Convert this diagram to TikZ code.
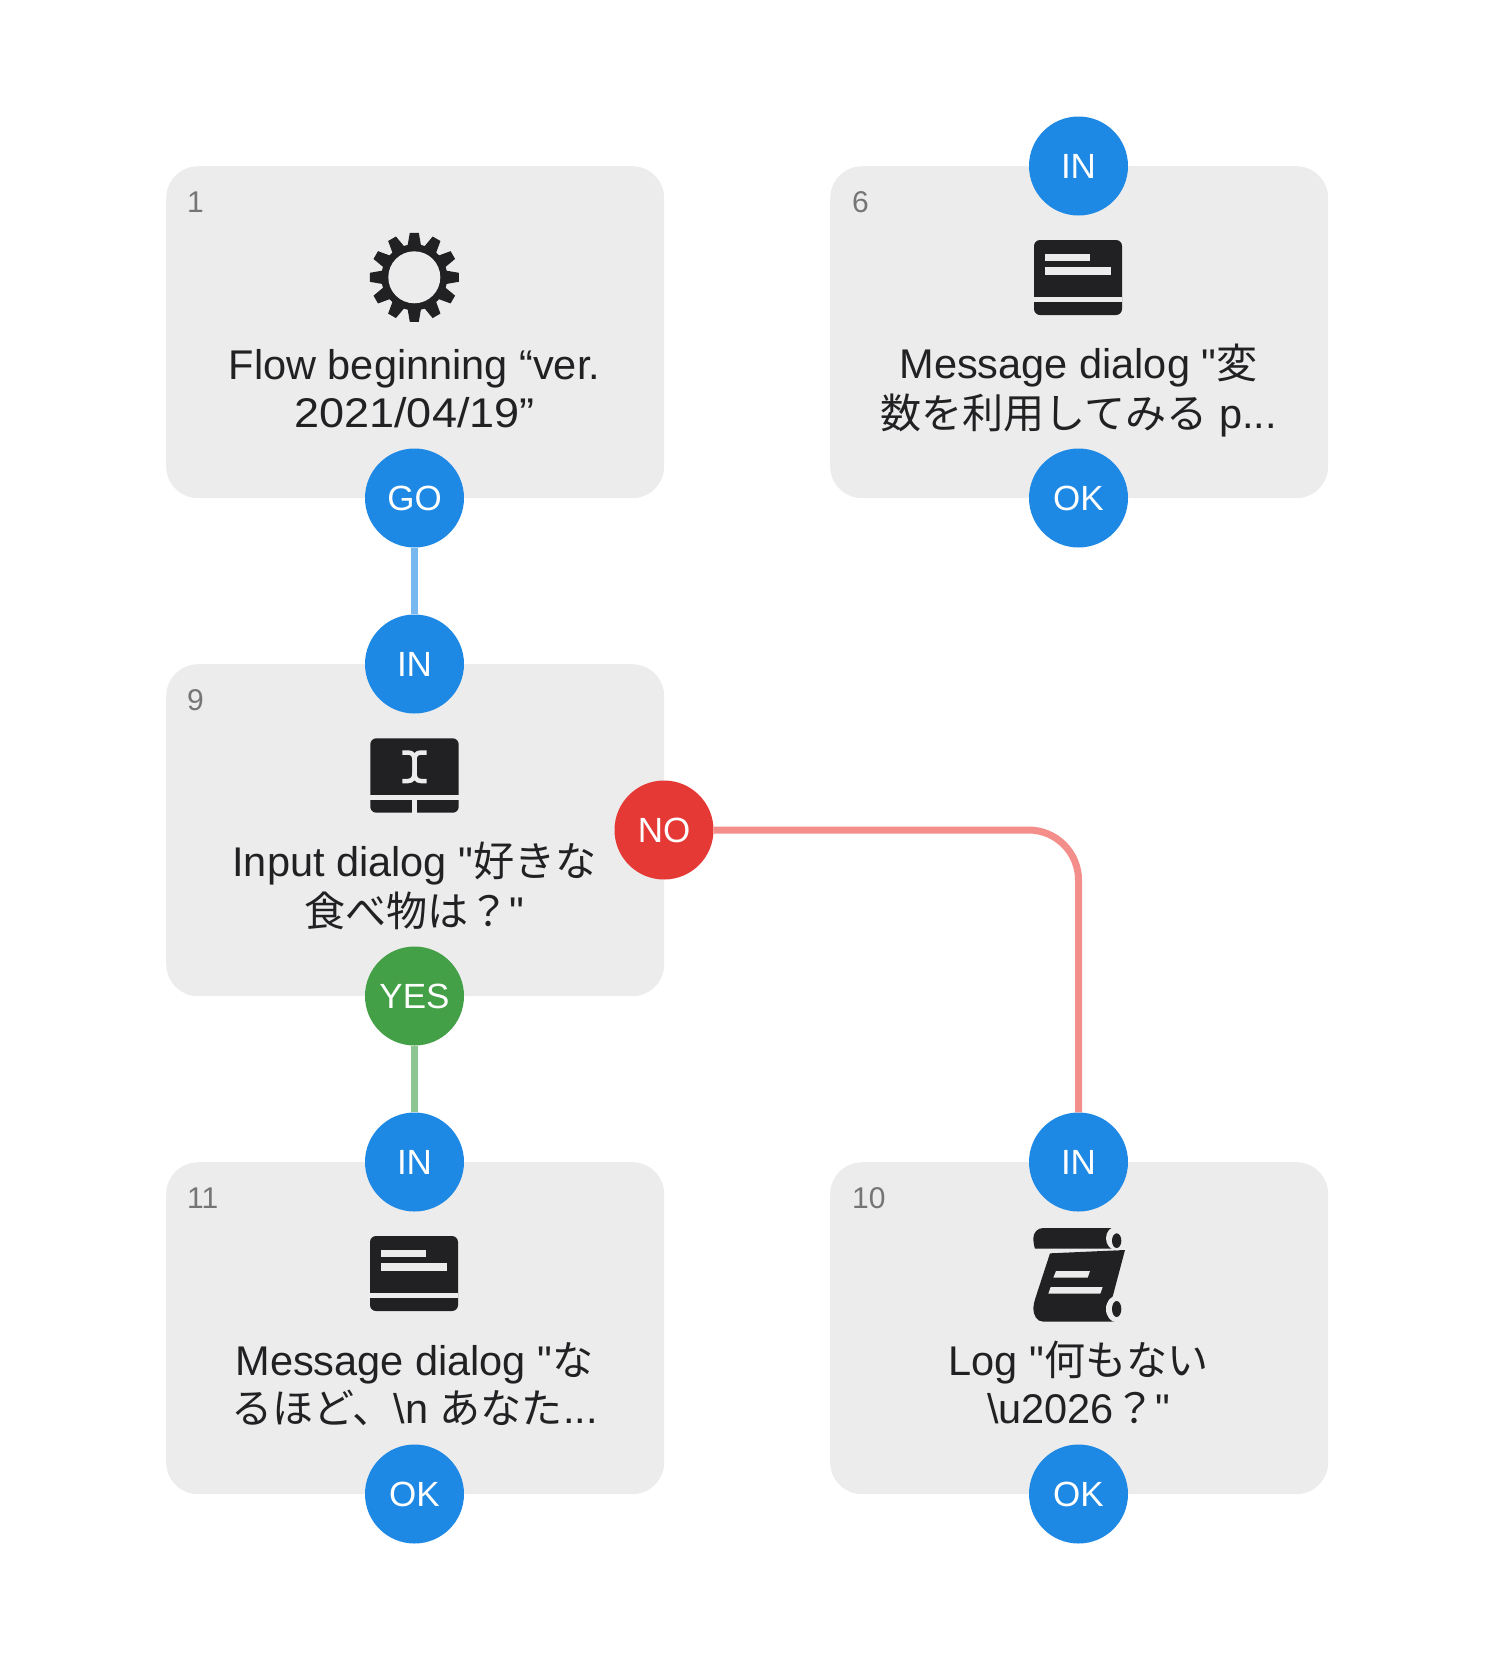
\documentclass[tikz,border=0pt]{standalone}
\usepackage{fontspec}
\setmainfont{Liberation Sans}
\newfontfamily\cjk[Scale=0.99]{Noto Sans CJK JP}
\newfontfamily\widedigits[FakeStretch=1.085]{Liberation Sans}
\newfontfamily\plainq{Liberation Sans}
\definecolor{boxgray}{HTML}{ECECEC}
\definecolor{inkdark}{HTML}{212023}
\definecolor{numgray}{HTML}{757575}
\definecolor{portblue}{HTML}{1E88E5}
\definecolor{portred}{HTML}{E53935}
\definecolor{portgreen}{HTML}{43A047}
\definecolor{lineblue}{HTML}{78B8F0}
\definecolor{linered}{HTML}{F38E8A}
\definecolor{linegreen}{HTML}{8EC691}
\newcommand{\J}[1]{{\cjk #1}}
\newcommand{\Q}{{\plainq\symbol{34}}}
\tikzset{
  x=1pt,y=-1pt,
  card/.style={fill=boxgray,rounded corners=32pt,minimum width=498pt,minimum height=332pt,inner sep=0pt,anchor=north west},
  port/.style={circle,minimum size=99pt,inner sep=0pt,text=white,font=\fontsize{35}{35}\selectfont},
  portb/.style={port,fill=portblue},
  portr/.style={port,fill=portred},
  portg/.style={port,fill=portgreen},
  numlabel/.style={text=numgray,font=\fontsize{30}{30}\selectfont,anchor=base west,inner sep=0pt},
  title/.style={text=inkdark,align=center,inner sep=0pt,font=\fontsize{41.5}{48}\selectfont},
  wire/.style={line width=7pt},
  ink/.style={fill=inkdark,draw=none},
  paper/.style={fill=boxgray,draw=none},
}
\newcommand{\msgicon}[2]{%
  \begin{scope}[shift={(#1,#2)}]
    \fill[ink,rounded corners=6pt] (1034,240) rectangle (1122,315);
    \fill[paper] (1045,254) rectangle (1090,261);
    \fill[paper] (1045,267) rectangle (1111,275);
    \fill[paper] (1034,297.3) rectangle (1122,301.7);
  \end{scope}}
\begin{document}
\begin{tikzpicture}
\useasboundingbox (0,0) rectangle (1494,1660);
% cards
\node[card] (c1) at (166,166) {};
\node[card] (c6) at (830,166) {};
\node[card] (c9) at (166,664) {};
\node[card] (c11) at (166,1162) {};
\node[card] (c10) at (830,1162) {};
% numbers
\node[numlabel] (n1) at (187,212.5) {1};
\node[numlabel] (n6) at (852,212.5) {6};
\node[numlabel] (n9) at (187,710.5) {9};
\node[numlabel] (n11) at (187,1208.5) {11};
\node[numlabel] (n10) at (852,1208.5) {10};
% gear
\begin{scope}[shift={(414.3,277.3)}]
  \fill[ink] (0,0) circle (33);
  \foreach \a in {0,30,...,330}{
    \fill[ink,rotate=\a] (-7,-30) -- (-4.5,-44.5) -- (4.5,-44.5) -- (7,-30) -- cycle;
  }
  \fill[paper] (0,0) circle (26);
\end{scope}
% message icons
\msgicon{0}{0}
\msgicon{-664}{996}
% input icon
\fill[ink,rounded corners=6pt] (370.3,738.3) rectangle (458.7,812.7);
\fill[paper] (370.3,795) rectangle (458.7,800);
\fill[paper] (411.7,800) rectangle (417.3,812.7);
\draw[boxgray,line width=4.5pt] (402.3,752.5) -- (408,752.5) .. controls (413,752.5) and (414.5,756) .. (414.5,760) -- (414.5,773) .. controls (414.5,777) and (413,781) .. (408,781) -- (402.3,781);
\draw[boxgray,line width=4.5pt] (426.7,752.5) -- (421,752.5) .. controls (416,752.5) and (414.5,756) .. (414.5,760) -- (414.5,773) .. controls (414.5,777) and (416,781) .. (421,781) -- (426.7,781);
% scroll icon
\begin{scope}[shift={(1000,1210)},x=0.3333pt,y=-0.3333pt]
  \fill[ink] (345,54) -- (130,54) .. controls (112,54) and (100,68) .. (100,85) .. controls (100,102) and (105,116) .. (105,116) -- (345,116) -- cycle;
  \fill[ink] (150,130) -- (375,120) -- (330,290) -- (345,335) -- (130,335) .. controls (110,335) and (100,315) .. (100,295) .. controls (100,285) and (103,275) .. (106,265) -- cycle;
  \fill[paper] (160,203) -- (168,183) -- (270,183) -- (263,203) -- cycle;
  \fill[paper] (145,251) -- (152,231) -- (308,231) -- (301,251) -- cycle;
  \fill[paper] (350,85) ellipse [x radius=32,y radius=36];
  \fill[ink] (350,92) ellipse [x radius=14,y radius=22];
  \fill[paper] (350,297) ellipse [x radius=32,y radius=40];
  \fill[ink] (350,297) ellipse [x radius=14,y radius=24];
\end{scope}
% titles
\node[title] (t1) at (414.5,393.5) {\strut Flow beginning “ver.\\\strut{\widedigits 2021/04/19”}};
\node[title] (t6) at (1078.5,393.5) {\strut Message dialog \Q\J{変}\\\strut\J{数を利用してみる} p...};
\node[title] (t9) at (414.5,891.5) {\strut Input dialog \Q\J{好きな}\\\strut\J{食べ物は？}\Q};
\node[title] (t11) at (414.5,1389.5) {\strut Message dialog \Q\J{な}\\\strut\J{るほど、}\textbackslash n \J{あなた}...};
\node[title] (t10) at (1078.5,1389.5) {\strut Log \Q\J{何もない}\\\strut\textbackslash u2026\J{？}\Q};
% ports
\node[portb] (go1) at (414.5,498) {GO};
\node[portb] (in6) at (1078.5,166) {\raisebox{-1.5pt}{IN}};
\node[portb] (ok6) at (1078.5,498) {OK};
\node[portb] (in9) at (414.5,664) {\raisebox{-1.5pt}{IN}};
\node[portr] (no9) at (664,830) {NO};
\node[portg] (yes9) at (414.5,996) {YES};
\node[portb] (in11) at (414.5,1162) {\raisebox{-1.5pt}{IN}};
\node[portb] (ok11) at (414.5,1494) {OK};
\node[portb] (in10) at (1078.5,1162) {\raisebox{-1.5pt}{IN}};
\node[portb] (ok10) at (1078.5,1494) {OK};
% connectors
\draw[wire,lineblue] (go1.south) -- (in9.north);
\draw[wire,linegreen] (yes9.south) -- (in11.north);
\draw[wire,linered,rounded corners=50pt] (no9.east) -| (in10.north);
\end{tikzpicture}
\end{document}
